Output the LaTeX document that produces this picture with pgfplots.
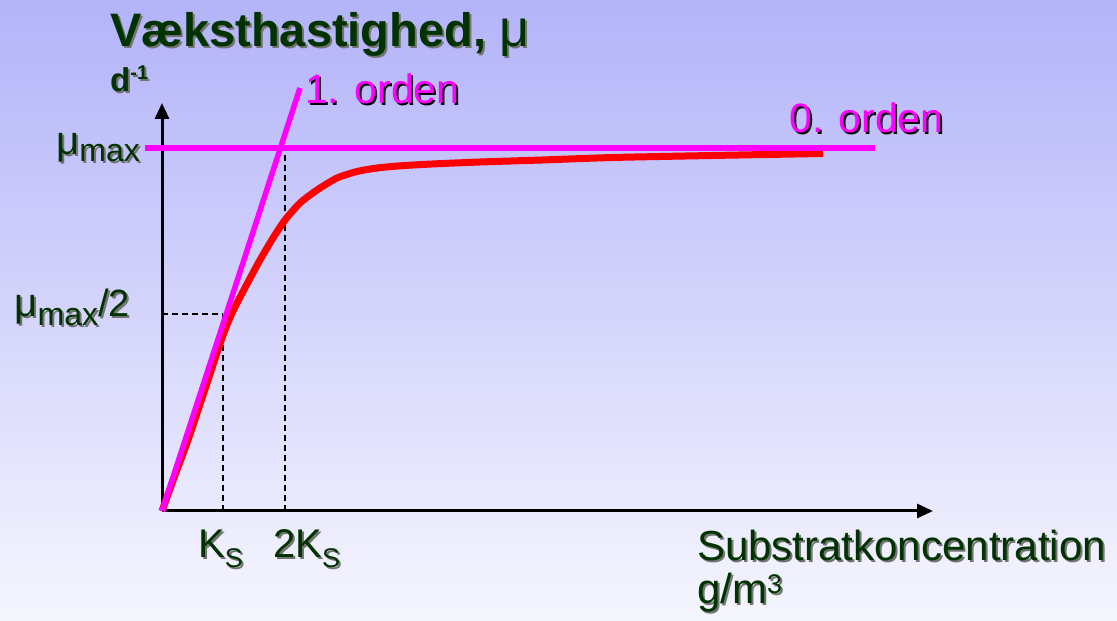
\documentclass[border=0pt]{standalone}
\usepackage{pgfplots}
\pgfplotsset{compat=1.18}
\usepackage{fontspec}
\setmainfont{Liberation Sans}
\usetikzlibrary{arrows.meta}
\definecolor{dkgreen}{RGB}{0,51,0}
\definecolor{bgtop}{RGB}{179,179,249}
\definecolor{bgbot}{RGB}{246,246,254}
\definecolor{mag}{RGB}{255,0,255}
\newcommand{\fs}[1]{\fontsize{#1}{#1}\selectfont}
% shadowed text: x, y, anchor, colour, shadow colour, text
\newcommand{\stext}[6]{%
  \node[anchor=#3, text=#5, inner sep=0pt, xshift=2pt, yshift=-2pt] at (axis cs:#1,#2) {#6};
  \node[anchor=#3, text=#4, inner sep=0pt] at (axis cs:#1,#2) {#6};}
\begin{document}
\begin{tikzpicture}
\shade[top color=bgtop, bottom color=bgbot] (0,0) rectangle (1117pt,621pt);
\begin{axis}[x=1pt, y=1pt, xmin=-162, xmax=955, ymin=-110, ymax=511,
  hide axis, clip=false, at={(0,0)}, anchor=south west]
% axes
\draw[line width=3pt, -{Triangle[length=16pt,width=14pt]}] (axis cs:0,0) -- (axis cs:0,408);
\draw[line width=3pt, -{Triangle[length=16pt,width=14pt]}] (axis cs:0,0) -- (axis cs:771,0);
% dashed guides
\addplot[black, line width=1.5pt, dash pattern=on 6pt off 4pt] coordinates {(123,0) (123,362)};
\addplot[black, line width=1.5pt, dash pattern=on 6pt off 4pt] coordinates {(61,0) (61,197)};
\addplot[black, line width=1.5pt, dash pattern=on 6pt off 4pt] coordinates {(0,197) (61,197)};
% Monod curve
\addplot[red, line width=7pt, smooth, tension=0.4, line join=round] coordinates {
(0,0) (13,36) (26,71) (46,131) (61,176) (71,200) (85,227) (98,251) (111,273) (123,291)
(138,308) (155,321) (175,333) (195,339.5) (215,343) (240,345.3) (270,347) (318,349)
(380,351) (451,353.5) (550,355.5) (661,357.5)};
% 0. and 1. order lines
\addplot[mag, line width=5.5pt] coordinates {(-17,363) (713,363)};
\addplot[mag, line width=5.5pt] coordinates {(0,0) (138,423)};
% texts
\stext{-52}{464}{base west}{dkgreen}{black!55}{\fs{47}\bfseries Væksthastighed, \mdseries\fs{52}μ}
\stext{-52}{419}{base west}{dkgreen}{black!55}{\fs{33}\bfseries d\raisebox{12pt}{\fs{20}-1}}
\stext{143}{407}{base west}{mag}{black}{\fs{41}1. orden}
\stext{627}{378}{base west}{mag}{black}{\fs{41}0. orden}
\stext{-22}{356}{base east}{dkgreen}{black!55}{\fs{40}μ\raisebox{-7pt}{\fs{32}max}}
\stext{-32}{194}{base east}{dkgreen}{black!55}{\fs{40}μ\raisebox{-9pt}{\fs{32}max}\fs{38}/2}
\stext{36}{-47}{base west}{dkgreen}{black!55}{\fs{40}K\raisebox{-10pt}{\fs{27}S}}
\stext{111}{-47}{base west}{dkgreen}{black!55}{\fs{40}2K\raisebox{-10pt}{\fs{27}S}}
\stext{535}{-50}{base west}{dkgreen}{black!55}{\fs{42}Substratkoncentration}
\stext{535}{-93}{base west}{dkgreen}{black!55}{\fs{42}g/m\raisebox{10pt}{\fs{27}3}}
\end{axis}
\end{tikzpicture}
\end{document}
